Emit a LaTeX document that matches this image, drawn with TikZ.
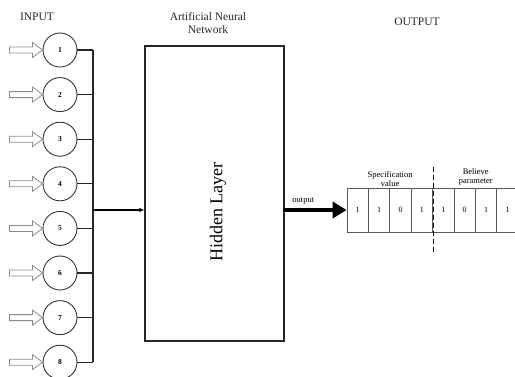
\documentclass[tikz,border=0pt]{standalone}
\usepackage{fontspec}
\setmainfont{Liberation Serif}
\usetikzlibrary{arrows.meta,positioning,calc}

\begin{document}
\begin{tikzpicture}[
  x=1pt,y=1pt,
  neuron/.style={draw=black!80,line width=0.9pt,circle,minimum size=34pt,inner sep=0pt,
                 font=\fontsize{7.5}{8}\selectfont\bfseries},
  cell/.style={draw=black!65,line width=0.7pt,minimum width=21.4pt,minimum height=44pt,
               inner sep=0pt,font=\fontsize{8}{9}\selectfont},
  head/.style={font=\fontsize{11.5}{12.5}\selectfont,align=center,text=black!85},
  lbl/.style={font=\fontsize{8.5}{9}\selectfont,align=center,inner sep=1pt},
  bus/.style={line width=1.2pt,draw=black!85},
  ar/.style={-{Latex[length=5pt,width=4.5pt]},line width=1.2pt},
  big/.style={-{Triangle[length=14pt,width=16pt]},line width=3.5pt,line cap=round},
  hollow/.style={draw=gray!90,fill=white,line width=0.8pt,line join=miter}
]
\useasboundingbox (0,0) rectangle (515,-376);

%%%%%%%%%%%%%%%%%%%%%% input layer %%%%%%%%%%%%%%%%%%%%%%%%%%%%%%%%%%%%%%%%
\node[head] (inp) at (37,-17) {INPUT};
\coordinate (bus) at (93,-210);
\foreach \i in {1,...,8} {
  \node[neuron] (in\i) at (60,{-50-44.6*(\i-1)}) {\i};
  \draw[hollow] (in\i.west) -- ++(-10,7.5) -- ++(0,-4.5) -- ++(-23,0)
        -- ++(0,-6) -- ++(23,0) -- ++(0,-4.5) -- cycle;
  \draw[bus] (in\i.east) -- (in\i.east -| bus);
}
\draw[bus] (in1.east -| bus) -- (in8.east -| bus);

%%%%%%%%%%%%%%%%%%%%%% hidden layer %%%%%%%%%%%%%%%%%%%%%%%%%%%%%%%%%%%%%%%
\node[head] (ann) at (208,-23) {Artificial Neural\\Network};
\node[draw=black!85,line width=1.3pt,minimum width=139pt,minimum height=295pt] (hid) at (214.5,-193.5) {};
\node[rotate=90,font=\fontsize{18}{20}\selectfont] (hl) at (218,-212) {Hidden Layer};
\draw[ar] (bus) -- (bus -| hid.west);

%%%%%%%%%%%%%%%%%%%%%% output %%%%%%%%%%%%%%%%%%%%%%%%%%%%%%%%%%%%%%%%%%%%%
\node[head] (outp) at (417,-22) {OUTPUT};
\foreach \b [count=\k] in {1,1,0,1,1,0,1,1}
  \node[cell] (c\k) at ({357.7+21.4*(\k-1)},-210) {\b};
\draw[big] (hid.east |- c1.west) -- node[lbl,above=3pt,pos=0.3]{output} (c1.west);
\draw[dashed,dash pattern=on 5pt off 3pt,line width=0.8pt]
  ($(c4.north east)+(0,21)$) -- ($(c4.south east)+(0,-20)$);
\node[lbl,above=0pt of c2.north east] (spec) {Specification\\value};
\node[lbl,above=1pt of c6.north east] (bel) {Believe\\parameter};
\end{tikzpicture}
\end{document}
